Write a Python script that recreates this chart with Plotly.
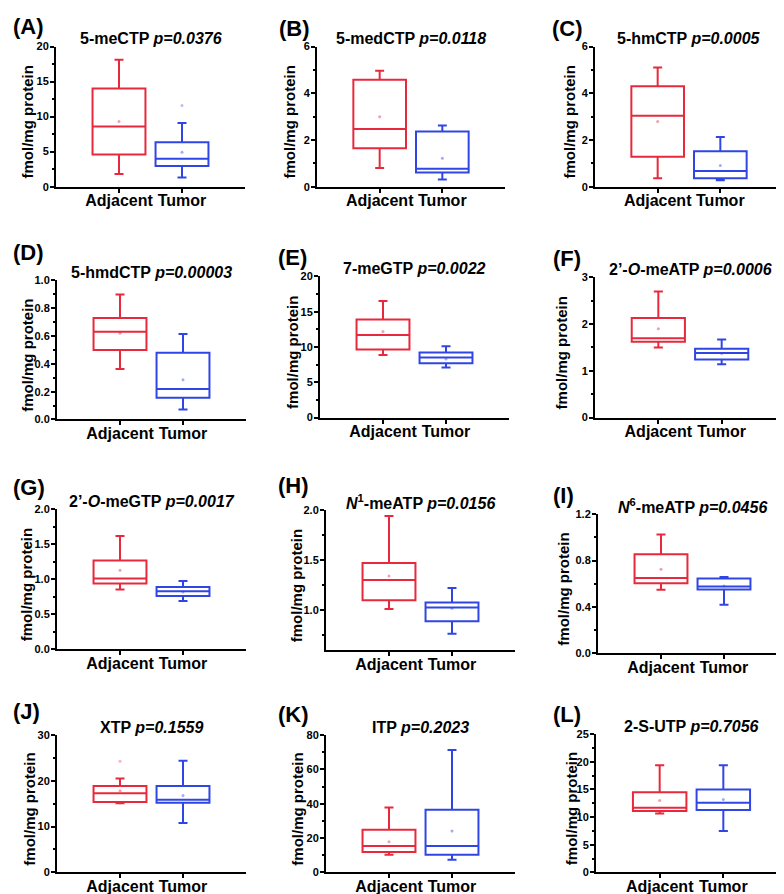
import plotly.graph_objects as go

W, H = 784, 894

panel_letters = ["A", "B", "C", "D", "E", "F", "G", "H", "I", "J", "K", "L"]
compound_names = ["5-meCTP", "5-medCTP", "5-hmCTP", "5-hmdCTP", "7-meGTP",
                  "2’-<i>O</i>-meATP", "2’-<i>O</i>-meGTP",
                  "<i>N</i><sup>1</sup>-meATP", "<i>N</i><sup>6</sup>-meATP",
                  "XTP", "ITP", "2-S-UTP"]
p_values = ["0.0376", "0.0118", "0.0005", "0.00003", "0.0022", "0.0006",
            "0.0017", "0.0156", "0.0456", "0.1559", "0.2023", "0.7056"]
groups = ["Adjacent", "Tumor"]

# Adjacent tissue box statistics
adj_lower = [1.8, 0.80, 0.36, 0.363, 8.85, 1.50, 0.855, 1.013, 0.548, 15.1, 10.3, 10.65]
adj_q1 = [4.6, 1.65, 1.28, 0.50, 9.65, 1.62, 0.94, 1.10, 0.604, 15.4, 11.8, 11.1]
adj_median = [8.6, 2.47, 3.04, 0.63, 11.7, 1.70, 1.01, 1.303, 0.65, 17.3, 15.4, 11.7]
adj_q3 = [14.0, 4.58, 4.30, 0.73, 13.9, 2.13, 1.27, 1.473, 0.855, 18.9, 24.9, 14.5]
adj_upper = [18.1, 4.96, 5.10, 0.898, 16.5, 2.70, 1.62, 1.943, 1.025, 20.5, 37.8, 19.4]
adj_mean = [9.3, 2.99, 2.79, 0.62, 12.2, 1.90, 1.13, 1.343, 0.726, 17.85, 17.9, 13.0]

# Tumor tissue box statistics
tum_lower = [1.3, 0.31, 0.27, 0.071, 7.1, 1.14, 0.69, 0.767, 0.418, 10.8, 7.4, 7.5]
tum_q1 = [2.96, 0.61, 0.36, 0.157, 7.7, 1.24, 0.76, 0.89, 0.55, 15.2, 10.3, 11.3]
tum_median = [4.0, 0.77, 0.67, 0.22, 8.5, 1.38, 0.83, 1.027, 0.576, 15.9, 15.4, 12.6]
tum_q3 = [6.35, 2.36, 1.52, 0.48, 9.2, 1.475, 0.89, 1.077, 0.645, 18.9, 36.5, 15.0]
tum_upper = [9.1, 2.62, 2.13, 0.615, 10.1, 1.67, 0.976, 1.223, 0.658, 24.4, 71.3, 19.4]
tum_mean = [4.9, 1.22, 0.91, 0.285, 8.3, 1.37, 0.82, 1.02, 0.58, 16.8, 24.1, 13.2]

# faint extra points
extra_panel = [0, 9]
extra_group = ["Tumor", "Adjacent"]
extra_value = [11.6, 24.3]

# y axis scales
y_min = [0, 0, 0, 0, 0, 0, 0, 0.6, 0, 0, 0, 0]
y_max = [20, 6, 6, 1.0, 20, 3, 2.0, 2.0, 1.2, 30, 80, 25]
y_dtick = [5, 2, 2, 0.2, 5, 1, 0.5, 0.5, 0.4, 10, 20, 5]
y_fmt = ["", "", "", ".1f", "", "", ".1f", ".1f", ".1f", "", "", ""]

# panel plot-area rectangles in pixels (left, right, top, bottom)
rects = [
    (48, 237, 33, 175), (309, 497, 33, 175), (587, 775, 33, 175),
    (49, 238, 270, 411), (312, 501, 266, 409), (587, 777, 267, 409),
    (49, 238, 502, 644), (318, 507, 503, 645), (590, 779, 507, 648),
    (49, 238, 731, 870), (318, 507, 731, 870), (588, 779, 730, 870),
]
label_pos = [(3, 13), (269, 15), (542, 15), (3, 242), (268, 247), (543, 248),
             (3, 480), (268, 478), (543, 488), (3, 707), (268, 710), (543, 710)]
ytitle_x = [20, 282, 562, 20, 285, 553, 18, 288, 556, 22, 290, 563]

RED = "#e8283c"
BLUE = "#3046e4"
FONT = "Liberation Sans, Arial, sans-serif"

fig = go.Figure()
layout = dict(width=W, height=H, margin=dict(l=0, r=0, t=0, b=0),
              paper_bgcolor="white", plot_bgcolor="white", showlegend=False,
              boxmode="overlay", annotations=[])

for i in range(12):
    n = "" if i == 0 else str(i + 1)
    xa, ya = "x" + n, "y" + n
    for g, col, lo, q1, md, q3, up in [
        (groups[0], RED, adj_lower, adj_q1, adj_median, adj_q3, adj_upper),
        (groups[1], BLUE, tum_lower, tum_q1, tum_median, tum_q3, tum_upper),
    ]:
        fig.add_trace(go.Box(
            x=[g], q1=[q1[i]], median=[md[i]], q3=[q3[i]],
            lowerfence=[lo[i]], upperfence=[up[i]],
            line=dict(color=col, width=2), fillcolor="rgba(0,0,0,0)",
            width=0.84, whiskerwidth=0.17, boxpoints=False,
            xaxis=xa, yaxis=ya, hoverinfo="skip"))
    fig.add_trace(go.Scatter(x=[groups[0]], y=[adj_mean[i]], mode="markers",
                             marker=dict(size=3, color="rgba(232,40,60,0.45)"),
                             xaxis=xa, yaxis=ya, hoverinfo="skip"))
    fig.add_trace(go.Scatter(x=[groups[1]], y=[tum_mean[i]], mode="markers",
                             marker=dict(size=3, color="rgba(48,70,228,0.45)"),
                             xaxis=xa, yaxis=ya, hoverinfo="skip"))

    l, r, t, b = rects[i]
    layout["xaxis" + n] = dict(
        domain=[l / W, r / W], anchor=ya, type="category",
        categoryorder="array", categoryarray=groups, range=[-1, 2],
        showline=True, linecolor="black", linewidth=2, ticks="outside",
        ticklen=4, tickwidth=2, tickcolor="black", showgrid=False, zeroline=False,
        ticklabelstandoff=-6,
        tickfont=dict(family=FONT, size=16, color="black", weight="bold"))
    layout["yaxis" + n] = dict(
        domain=[1 - b / H, 1 - t / H], anchor=xa, range=[y_min[i], y_max[i]],
        tick0=0, dtick=y_dtick[i], tickformat=y_fmt[i],
        showline=True, linecolor="black", linewidth=2, ticks="outside",
        ticklen=4, tickwidth=2, tickcolor="black", showgrid=False, zeroline=False,
        ticklabelstandoff=-1,
        minor=dict(dtick=y_dtick[i] / 2, ticks="outside", ticklen=2.5,
                   tickwidth=1.5, tickcolor="black", showgrid=False),
        tickfont=dict(family=FONT, size=11, color="black", weight="bold"))

    layout["annotations"].append(dict(
        text="<b>" + compound_names[i] + " <i>p=" + p_values[i] + "</i></b>",
        xref="paper", yref="paper", x=(l + r) / 2 / W, y=1 - (t - 8) / H,
        xanchor="center", yanchor="middle", showarrow=False,
        font=dict(family=FONT, size=16, color="black")))
    lx, ly = label_pos[i]
    layout["annotations"].append(dict(
        text="<b>(" + panel_letters[i] + ")</b>",
        xref="paper", yref="paper", x=lx / W, y=1 - ly / H,
        xanchor="left", yanchor="middle", showarrow=False,
        font=dict(family=FONT, size=22, color="black")))
    layout["annotations"].append(dict(
        text="<b>fmol/mg protein</b>", textangle=-90,
        xref="paper", yref="paper", x=ytitle_x[i] / W, y=1 - ((t + b) / 2 + 6) / H,
        xanchor="center", yanchor="middle", showarrow=False,
        font=dict(family=FONT, size=15, color="black")))

for ev, eg, ep in zip(extra_value, extra_group, extra_panel):
    n = "" if ep == 0 else str(ep + 1)
    col = "rgba(48,70,228,0.35)" if eg == "Tumor" else "rgba(232,40,60,0.35)"
    fig.add_trace(go.Scatter(x=[eg], y=[ev], mode="markers",
                             marker=dict(size=3, color=col),
                             xaxis="x" + n, yaxis="y" + n, hoverinfo="skip"))

fig.update_layout(**layout)
fig.write_html("out.html")
